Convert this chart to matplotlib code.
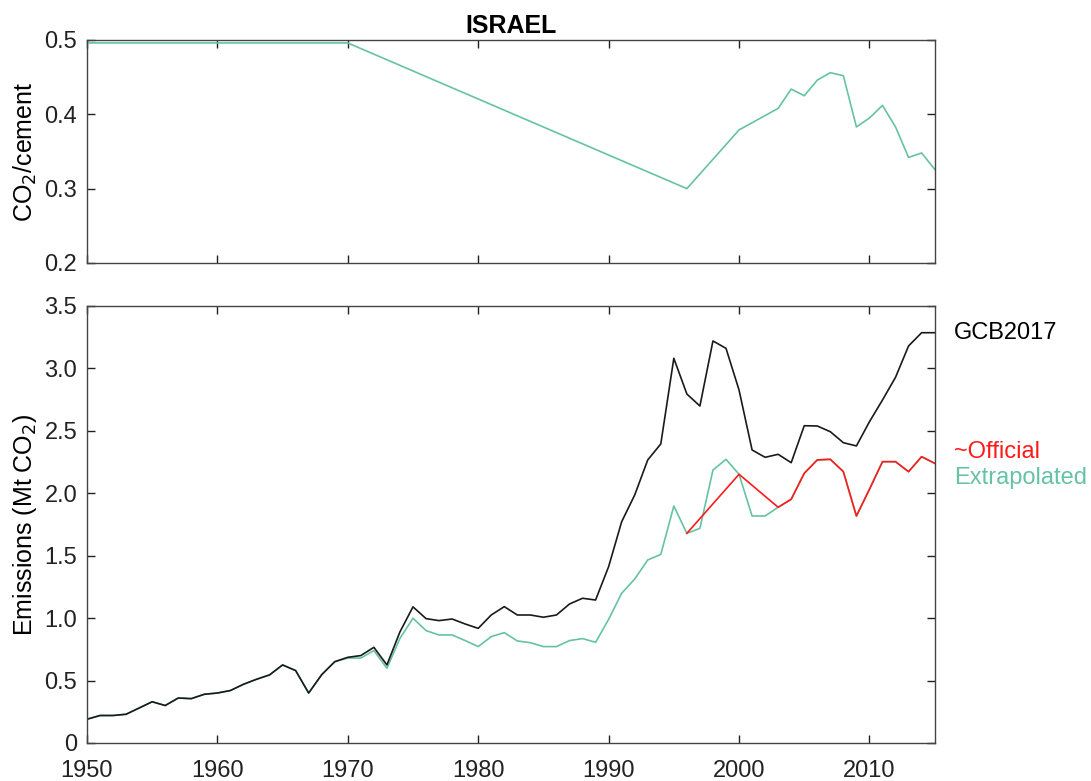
import numpy as np
import matplotlib
matplotlib.use('Agg')
import matplotlib.pyplot as plt

plt.rcParams['font.family'] = ['Liberation Sans', 'DejaVu Sans']

# top panel: CO2 per unit cement
ratio_years = [1950, 1970, 1996, 2000, 2003, 2004, 2005, 2006, 2007, 2008,
               2009, 2010, 2011, 2012, 2013, 2014, 2015]
ratio_vals = [0.496, 0.496, 0.300, 0.379, 0.408, 0.434, 0.425, 0.446, 0.456, 0.452,
              0.383, 0.395, 0.412, 0.383, 0.342, 0.348, 0.326]

# bottom panel: emissions (Mt CO2)
years = list(range(1950, 2016))
gcb2017 = [0.19, 0.22, 0.22, 0.23, 0.28, 0.33, 0.30, 0.36, 0.355, 0.39,
           0.40, 0.42, 0.47, 0.51, 0.545, 0.625, 0.58, 0.40, 0.547, 0.651,
           0.686, 0.70, 0.766, 0.625, 0.89, 1.09, 0.996, 0.98, 0.993, 0.953,
           0.918, 1.025, 1.092, 1.025, 1.025, 1.007, 1.025, 1.113, 1.159, 1.145,
           1.412, 1.772, 1.986, 2.267, 2.395, 3.081, 2.795, 2.699, 3.22, 3.161,
           2.827, 2.347, 2.288, 2.312, 2.245, 2.541, 2.539, 2.493, 2.405, 2.379,
           2.573, 2.747, 2.929, 3.18, 3.286, 3.286]
extrap = [0.19, 0.22, 0.22, 0.23, 0.28, 0.33, 0.30, 0.36, 0.355, 0.39,
          0.40, 0.42, 0.47, 0.51, 0.545, 0.625, 0.58, 0.40, 0.547, 0.651,
          0.68, 0.68, 0.74, 0.598, 0.838, 0.999, 0.90, 0.865, 0.865, 0.82,
          0.772, 0.852, 0.884, 0.817, 0.803, 0.772, 0.772, 0.82, 0.836, 0.806,
          0.99, 1.199, 1.313, 1.466, 1.51, 1.898, 1.679, 1.719, 2.186, 2.272,
          2.152, 1.818, 1.818, 1.888, 1.952, 2.16, 2.267, 2.272, 2.173, 1.818,
          2.032, 2.253, 2.253, 2.173, 2.293, 2.24]
official_years = [1996, 2000, 2003, 2004, 2005, 2006, 2007, 2008, 2009, 2010,
                  2011, 2012, 2013, 2014, 2015]
official = [1.679, 2.152, 1.888, 1.952, 2.16, 2.267, 2.272, 2.173, 1.818, 2.032,
            2.253, 2.253, 2.173, 2.293, 2.24]

green = '#66c2a5'
red = '#ff1a1a'
black = '#1a1a1a'

fig = plt.figure(figsize=(10.91, 7.81), dpi=100)
ax1 = fig.add_axes([0.0797, 0.6633, 0.777, 0.2855])
ax2 = fig.add_axes([0.0797, 0.0487, 0.777, 0.5595])

xt = [1950, 1960, 1970, 1980, 1990, 2000, 2010]

for ax in (ax1, ax2):
    ax.set_xlim(1950, 2015)
    ax.set_xticks(xt)
    ax.tick_params(direction='in', top=True, right=True, length=6,
                   labelsize=17, colors='#222222', width=1)
    ax.tick_params(axis='y', pad=7)
    ax.tick_params(axis='x', pad=12)
    for s in ax.spines.values():
        s.set_color('#444444')
        s.set_linewidth(1)

# top panel
ax1.plot(ratio_years, ratio_vals, color=green, lw=1.2)
ax1.set_ylim(0.2, 0.5)
ax1.set_yticks([0.2, 0.3, 0.4, 0.5])
ax1.set_xticklabels([])
ax1.set_ylabel('CO$_2$/cement', fontsize=18, labelpad=4)
ax1.set_title('ISRAEL', fontsize=18, fontweight='bold', pad=5)

# bottom panel
ax2.plot(years, extrap, color=green, lw=1.2)
ax2.plot(years, gcb2017, color=black, lw=1.2)
ax2.plot(official_years, official, color=red, lw=1.2)
ax2.set_ylim(0, 3.5)
yt = [0, 0.5, 1.0, 1.5, 2.0, 2.5, 3.0, 3.5]
ax2.set_yticks(yt)
ax2.set_yticklabels(['0'] + ['%.1f' % v for v in yt[1:]])
ax2.set_xticklabels([str(v) for v in xt])
ax2.set_ylabel('Emissions (Mt CO$_2$)', fontsize=18, labelpad=4)

ax2.text(2016.5, 3.28, 'GCB2017', color='black', fontsize=17, va='center', clip_on=False)
ax2.text(2016.5, 2.33, '~Official', color=red, fontsize=17, va='center', clip_on=False)
ax2.text(2016.5, 2.12, 'Extrapolated', color=green, fontsize=17, va='center', clip_on=False)

fig.savefig('out.png', dpi=100)
